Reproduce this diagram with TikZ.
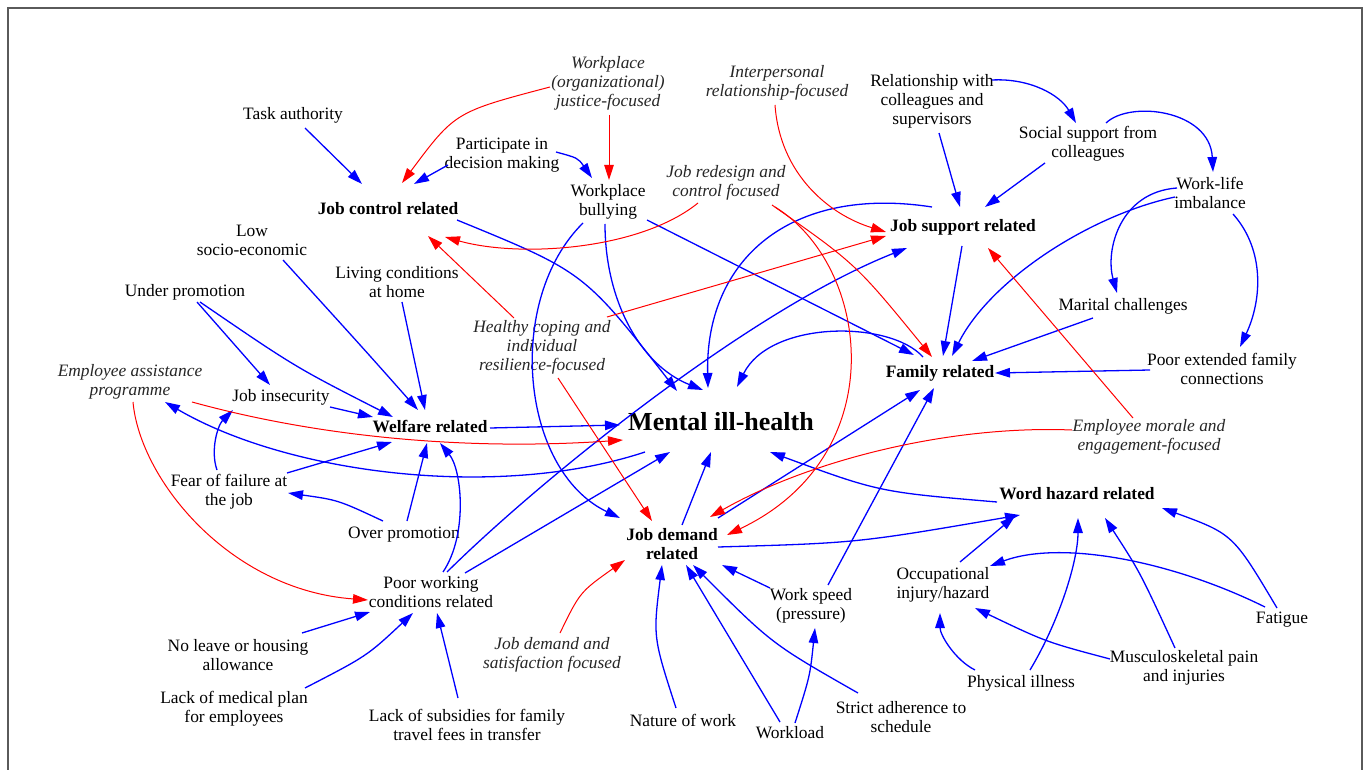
\documentclass[tikz,border=0pt]{standalone}
\usepackage{fontspec}
\setmainfont{Liberation Serif}
\usetikzlibrary{arrows.meta}
\definecolor{frame}{RGB}{90,90,90}
\begin{document}
\begin{tikzpicture}[x=1pt,y=-1pt,
  tx/.style={align=center, inner sep=0pt, text=black, font=\fontsize{17.4}{19}\selectfont},
  ti/.style={align=center, inner sep=0pt, text=black!85, font=\fontsize{17.4}{19}\selectfont\itshape},
  tb/.style={align=center, inner sep=0pt, text=black, font=\fontsize{17.4}{19}\selectfont\bfseries},
  bl/.style={draw=blue, line width=1.3pt, -{Triangle[length=15pt,width=9.5pt]}},
  rd/.style={draw=red, line width=1pt, -{Triangle[length=15pt,width=9.5pt]}},
  frm/.style={draw=frame, line width=2.5pt}]
\useasboundingbox (0,0) rectangle (1369,770);
\fill[white] (0,0) rectangle (1369,770);
\draw[frm] (8,770) -- (8,8) -- (1362,8) -- (1362,770);

% nodes
\node[ti] (wj) at (608,83) {Workplace\\(organizational)\\justice-focused};
\node[ti] (ir) at (777,83) {Interpersonal\\relationship-focused};
\node[tx] (rc) at (932,101) {Relationship with\\colleagues and\\supervisors};
\node[tx] (ss) at (1088,144) {Social support from\\colleagues};
\node[tx] (wl) at (1210,193) {Work-life\\imbalance};
\node[tx] (ta) at (293,115) {Task authority};
\node[tx] (pd) at (502,155) {Participate in\\decision making};
\node[tx] (wb) at (608,202) {Workplace\\bullying};
\node[ti] (jr) at (726,183) {Job redesign and\\control focused};
\node[tb] (jc) at (388,209) {Job control related};
\node[tb] (js) at (963,227) {Job support related};
\node[tx] (ls) at (252,240) {Low\\socio-economic};
\node[tx] (lc) at (397,282) {Living conditions\\at home};
\node[tx] (up) at (185,292) {Under promotion};
\node[tx] (mc) at (1123,306) {Marital challenges};
\node[ti] (hc) at (542,347) {Healthy coping and\\individual\\resilience-focused};
\node[ti] (ea) at (130,382) {Employee assistance\\programme};
\node[tx] (ji) at (281,397) {Job insecurity};
\node[tb] (fr) at (940,373) {Family related};
\node[tx] (pe) at (1222,369) {Poor extended family\\connections};
\node[align=center, inner sep=0pt, font=\fontsize{26}{28}\selectfont\bfseries] (mh) at (721,422) {Mental ill-health};
\node[tb] (wr) at (430,427) {Welfare related};
\node[ti] (em) at (1149,437) {Employee morale and\\engagement-focused};
\node[tx] (ff) at (229,492) {Fear of failure at\\the job};
\node[tb] (wh) at (1077,494) {Word hazard related};
\node[tx] (op) at (404,535) {Over promotion};
\node[tb] (jd) at (672,544) {Job demand\\related};
\node[tx] (pw) at (431,592) {Poor working\\conditions related};
\node[tx] (oi) at (943,585) {Occupational\\injury/hazard};
\node[tx] (ws) at (811,606) {Work speed\\(pressure)};
\node[tx] (fa) at (1282,620) {Fatigue};
\node[tx] (nl) at (238,655) {No leave or housing\\allowance};
\node[ti] (jsf) at (552,655) {Job demand and\\satisfaction focused};
\node[tx] (mp) at (1184,668) {Musculoskeletal pain\\and injuries};
\node[tx] (pi) at (1021,683) {Physical illness};
\node[tx] (lm) at (234,709) {Lack of medical plan\\for employees};
\node[tx] (lsub) at (467,725) {Lack of subsidies for family\\travel fees in transfer};
\node[tx] (nw) at (683,720) {Nature of work};
\node[tx] (wk) at (790,733) {Workload};
\node[tx] (sa) at (901,717) {Strict adherence to\\schedule};

% blue connectors
\draw[bl] ([shift={(12,13)}]ta.center) -- ([shift={(-26,-25)}]jc.center);
\draw[bl] ([shift={(-54,10)}]pd.center) -- ([shift={(26,-25)}]jc.center);
\draw[bl] ([shift={(54,-3)}]pd.center) .. controls (578,158) .. ([shift={(-16,-24)}]wb.center);
\draw[bl] ([shift={(7,32)}]rc.center) -- ([shift={(-3,-20)}]js.center);
\draw[bl] ([shift={(60,-21)}]rc.center) .. controls (1030,78) and (1060,95) .. ([shift={(-12,-21)}]ss.center);
\draw[bl] ([shift={(-43,19)}]ss.center) -- ([shift={(22,-20)}]js.center);
\draw[bl] ([shift={(18,-21)}]ss.center) .. controls (1130,100) and (1210,110) .. ([shift={(3,-21)}]wl.center);
\draw[bl] ([shift={(-33,-5)}]wl.center) .. controls (1120,192) and (1105,250) .. ([shift={(-6,-13)}]mc.center);
\draw[bl] ([shift={(23,21)}]wl.center) .. controls (1265,250) and (1262,300) .. ([shift={(18,-22)}]pe.center);
\draw[bl] ([shift={(-35,4)}]wl.center) .. controls (1090,215) and (990,280) .. ([shift={(12,-17)}]fr.center);
\draw[bl] ([shift={(-1,19)}]js.center) -- ([shift={(3,-17)}]fr.center);
\draw[bl] ([shift={(39,18)}]wb.center) -- ([shift={(-26,-18)}]fr.center);
\draw[bl] ([shift={(-30,12)}]mc.center) -- ([shift={(32,-12)}]fr.center);
\draw[bl] ([shift={(-72,1)}]pe.center) -- ([shift={(55,0)}]fr.center);
\draw[bl] ([shift={(69,11)}]jc.center) .. controls (584,272) .. ([shift={(-44,-31)}]mh.center);
\draw[bl] ([shift={(-3,22)}]wb.center) .. controls (605,300) and (640,365) .. ([shift={(-18,-32)}]mh.center);
\draw[bl] ([shift={(-31,-20)}]js.center) .. controls (790,185) and (705,260) .. ([shift={(-13,-34)}]mh.center);
\draw[bl] ([shift={(-17,-16)}]fr.center) .. controls (890,320) and (770,320) .. ([shift={(16,-35)}]mh.center);
\draw[bl] ([shift={(60,1)}]wr.center) -- ([shift={(-101,3)}]mh.center);
\draw[bl] ([shift={(-76,30)}]mh.center) .. controls (500,500) and (290,475) .. ([shift={(35,20)}]ea.center);
\draw[bl] ([shift={(12,10)}]up.center) -- ([shift={(-11,-12)}]ji.center);
\draw[bl] ([shift={(15,10)}]up.center) .. controls (295,367) .. ([shift={(-37,-10)}]wr.center);
\draw[bl] ([shift={(31,20)}]ls.center) .. controls (363,348) .. ([shift={(-12,-17)}]wr.center);
\draw[bl] ([shift={(5,20)}]lc.center) -- ([shift={(-5,-17)}]wr.center);
\draw[bl] ([shift={(49,10)}]ji.center) -- ([shift={(-57,-10)}]wr.center);
\draw[bl] ([shift={(-12,-22)}]ff.center) .. controls (210,450) and (218,425) .. ([shift={(-48,13)}]ji.center);
\draw[bl] ([shift={(58,-19)}]ff.center) -- ([shift={(-38,15)}]wr.center);
\draw[bl] ([shift={(-21,-14)}]op.center) .. controls (338,500) .. ([shift={(59,1)}]ff.center);
\draw[bl] ([shift={(3,-14)}]op.center) -- ([shift={(-3,16)}]wr.center);
\draw[bl] ([shift={(12,-20)}]pw.center) .. controls (468,535) and (462,470) .. ([shift={(10,16)}]wr.center);
\draw[bl] ([shift={(16,-20)}]pw.center) .. controls (540,480) and (750,310) .. ([shift={(-56,21)}]js.center);
\draw[bl] ([shift={(34,-19)}]pw.center) -- ([shift={(-51,30)}]mh.center);
\draw[bl] ([shift={(64,-22)}]nl.center) -- ([shift={(-61,20)}]pw.center);
\draw[bl] ([shift={(71,-21)}]lm.center) .. controls (367,656) .. ([shift={(-18,21)}]pw.center);
\draw[bl] ([shift={(-9,-27)}]lsub.center) -- ([shift={(6,21)}]pw.center);
\draw[bl] ([shift={(-25,21)}]wb.center) .. controls (505,300) and (520,470) .. ([shift={(-52,-26)}]jd.center);
\draw[bl] ([shift={(46,-26)}]jd.center) -- ([shift={(-20,17)}]fr.center);
\draw[bl] ([shift={(17,-21)}]ws.center) -- ([shift={(-6,15)}]fr.center);
\draw[bl] ([shift={(10,-19)}]jd.center) -- ([shift={(-10,30)}]mh.center);
\draw[bl] ([shift={(-80,8)}]wh.center) .. controls (879,492) .. ([shift={(49,30)}]mh.center);
\draw[bl] ([shift={(46,3)}]jd.center) .. controls (857,543) .. ([shift={(-57,21)}]wh.center);
\draw[bl] ([shift={(17,-23)}]oi.center) -- ([shift={(-62,22)}]wh.center);
\draw[bl] ([shift={(9,-13)}]pi.center) .. controls (1060,620) and (1078,560) .. ([shift={(1,24)}]wh.center);
\draw[bl] ([shift={(-9,-20)}]mp.center) .. controls (1140,572) .. ([shift={(28,24)}]wh.center);
\draw[bl] ([shift={(-5,-12)}]fa.center) .. controls (1233,534) .. ([shift={(85,14)}]wh.center);
\draw[bl] ([shift={(-17,-13)}]fa.center) .. controls (1170,560) and (1060,540) .. ([shift={(47,-19)}]oi.center);
\draw[bl] ([shift={(-46,-13)}]pi.center) .. controls (955,660) and (940,635) .. ([shift={(-3,28)}]oi.center);
\draw[bl] ([shift={(-74,-9)}]mp.center) .. controls (1046,642) .. ([shift={(32,23)}]oi.center);
\draw[bl] ([shift={(-7,-12)}]nw.center) .. controls (653,637) .. ([shift={(-10,21)}]jd.center);
\draw[bl] ([shift={(-10,-11)}]wk.center) -- ([shift={(14,21)}]jd.center);
\draw[bl] ([shift={(-43,-24)}]sa.center) .. controls (772,644) .. ([shift={(21,21)}]jd.center);
\draw[bl] ([shift={(5,-10)}]wk.center) .. controls (810,676) .. ([shift={(4,22)}]ws.center);
\draw[bl] ([shift={(-41,-18)}]ws.center) -- ([shift={(50,21)}]jd.center);

% red connectors
\draw[rd] ([shift={(-58,4)}]wj.center) .. controls (455,112) .. ([shift={(14,-26)}]jc.center);
\draw[rd] ([shift={(1,32)}]wj.center) -- ([shift={(1,-22)}]wb.center);
\draw[rd] ([shift={(-2,22)}]ir.center) .. controls (780,175) and (830,215) .. ([shift={(-77,5)}]js.center);
\draw[rd] ([shift={(46,22)}]jr.center) .. controls (856,264) .. ([shift={(-8,-16)}]fr.center);
\draw[rd] ([shift={(49,24)}]jr.center) .. controls (870,265) and (895,455) .. ([shift={(55,-9)}]jd.center);
\draw[rd] ([shift={(-28,20)}]jr.center) .. controls (640,250) and (520,258) .. ([shift={(57,28)}]jc.center);
\draw[rd] ([shift={(-28,-29)}]hc.center) -- ([shift={(40,27)}]jc.center);
\draw[rd] ([shift={(65,-30)}]hc.center) -- ([shift={(-77,9)}]js.center);
\draw[rd] ([shift={(62,20)}]ea.center) .. controls (330,440) and (480,450) .. ([shift={(-98,18)}]mh.center);
\draw[rd] ([shift={(3,20)}]ea.center) .. controls (140,480) and (230,590) .. ([shift={(-63,8)}]pw.center);
\draw[rd] ([shift={(16,31)}]hc.center) -- ([shift={(-20,-23)}]jd.center);
\draw[rd] ([shift={(-77,-7)}]em.center) .. controls (950,425) and (810,460) .. ([shift={(38,-27)}]jd.center);
\draw[rd] ([shift={(-16,-19)}]em.center) -- ([shift={(25,21)}]js.center);
\draw[rd] ([shift={(8,-22)}]jsf.center) .. controls (580,592) .. ([shift={(-47,16)}]jd.center);
\end{tikzpicture}
\end{document}
